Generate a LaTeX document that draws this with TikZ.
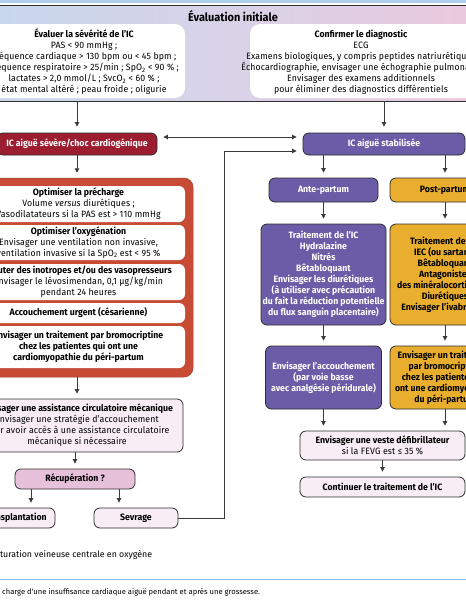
\documentclass[tikz,border=0pt]{standalone}
\usepackage{fontspec}
\setmainfont{Fira Sans}[UprightFeatures={FakeStretch=0.95,LetterSpace=1.5}, ItalicFeatures={FakeStretch=0.95,LetterSpace=1.5}, BoldFeatures={FakeStretch=0.95}]
\newfontfamily\capfont{Fira Sans}
\usetikzlibrary{arrows.meta,calc}
\definecolor{bandL}{HTML}{C4D8EE}
\definecolor{bandM}{HTML}{D9D3E8}
\definecolor{bandR}{HTML}{EFC6DB}
\definecolor{edge}{HTML}{2E2E2E}
\definecolor{sevred}{HTML}{9C1C30}
\definecolor{framered}{HTML}{C84B36}
\definecolor{purp}{HTML}{6A5CA6}
\definecolor{orng}{HTML}{E9AE2E}
\definecolor{lpink}{HTML}{F8EDF4}
\definecolor{rpink}{HTML}{E7C1DA}
\definecolor{bluel}{HTML}{8DB9E2}
\definecolor{arrgray}{HTML}{3A3A3A}
\newcommand{\fs}{\fontsize{9.2}{11}\selectfont}
\begin{document}
\begin{tikzpicture}[x=1pt,y=-1pt,
  box/.style={rounded corners=6pt, draw=edge, line width=0.8pt, align=center, inner sep=0pt, font=\fs},
  whitebox/.style={box, fill=white},
  redbox/.style={box, fill=sevred, text=white, font=\fs\bfseries},
  purpbox/.style={box, fill=purp, text=white, font=\fs\bfseries},
  orngbox/.style={box, fill=orng, text=black, font=\fs\bfseries},
  pinkbox/.style={box, fill=lpink},
  inbox/.style={rounded corners=6pt, fill=white, align=center, inner sep=0pt, font=\fs},
  txt/.style={align=center, inner sep=0pt, font=\fs},
  arr/.style={-{Triangle[length=4.5pt,width=4.5pt]}, line width=0.7pt, draw=arrgray, shorten >=5pt},
  dblarr/.style={{Triangle[length=4.5pt,width=4.5pt]}-{Triangle[length=4.5pt,width=4.5pt]}, line width=0.7pt, draw=arrgray, shorten >=6pt, shorten <=6pt}
]
\useasboundingbox (0,0) rectangle (466,600);
\clip (0,0) rectangle (466,600);
\fill[white] (0,0) rectangle (466,600);
% top strip
\fill[bluel!70] (-10,0) rectangle (476,3);
% band
\node[draw=edge, line width=0.8pt, left color=bandL, right color=bandR, middle color=bandM,
      minimum width=600pt, minimum height=96pt, inner sep=0pt] (band) at (233,53) {};
\node[txt, font=\fontsize{11.5}{13}\selectfont\bfseries] (title) at (233,16) {Évaluation initiale};
% top left box
\node[whitebox, draw=none, rounded corners=10pt, minimum width=210pt, minimum height=74pt] (evalbox) at (80,61) {};
\node[txt] (evaltext) at (84,62) {\textbf{Évaluer la sévérité de l'IC}\\PAS < 90 mmHg ;\\Fréquence cardiaque > 130 bpm ou < 45 bpm ;\\Fréquence respiratoire > 25/min ; SpO\textsubscript{2} < 90 \% ;\\lactates > 2,0 mmol/L ; SvcO\textsubscript{2} < 60 \% ;\\état mental altéré ; peau froide ; oligurie};
% top right box
\node[whitebox, draw=none, rounded corners=10pt, minimum width=270pt, minimum height=74pt] (diagbox) at (385,61) {};
\node[txt] (diagtext) at (361,62) {\textbf{Confirmer le diagnostic}\\ECG\\Examens biologiques, y compris peptides natriurétiques\\Échocardiographie, envisager une échographie pulmonaire\\Envisager des examens additionnels\\pour éliminer des diagnostics différentiels};
% row of main nodes
\node[redbox, minimum width=160pt, minimum height=22pt] (severe) at (77,144) {IC aiguë sévère/choc cardiogénique};
\node[purpbox, minimum width=162pt, minimum height=22pt] (stab) at (384,144) {IC aiguë stabilisée};
\draw[arr, shorten >=6pt] (severe.north |- band.south) -- (severe.north);
\draw[arr, shorten >=6pt] (stab.north |- band.south) -- (stab.north);
\draw[dblarr] ([yshift=7pt]severe.east) -- ([yshift=7pt]stab.west);
% right column
\node[purpbox, minimum width=109pt, minimum height=24pt] (ante) at (323.5,190) {Ante-partum};
\node[orngbox, minimum width=110pt, minimum height=24pt] (post) at (445,190) {Post-partum};
\draw[arr] (ante.north |- stab.south) -- (ante.north);
\draw[arr] (post.north |- stab.south) -- (post.north);
\node[purpbox, minimum width=125pt, minimum height=101pt] (anttx) at (323.5,274.5) {Traitement de l'IC\\Hydralazine\\Nitrés\\Bêtabloquant\\Envisager les diurétiques\\(à utiliser avec précaution\\du fait la réduction potentielle\\du flux sanguin placentaire)};
\node[orngbox, minimum width=110pt, minimum height=101pt] (posttx) at (445,274.5) {Traitement de l'IC\\IEC (ou sartans)\\Bêtabloquant\\Antagonistes\\des minéralocorticoïdes\\Diurétiques\\Envisager l'ivabradine};
\draw[arr] (ante.south) -- (anttx.north);
\draw[arr] (post.south) -- (posttx.north);
\node[purpbox, minimum width=116pt, minimum height=63pt] (accouch) at (323.5,377.5) {Envisager l'accouchement\\(par voie basse\\avec analgésie péridurale)};
\node[orngbox, minimum width=110pt, minimum height=63pt] (bromo) at (445,377.5) {Envisager un traitement\\par bromocriptine\\chez les patientes qui\\ont une cardiomyopathie\\du péri-partum};
\draw[arr] (anttx.south) -- (accouch.north);
\draw[arr] (posttx.south) -- (bromo.north);
\node[pinkbox, minimum width=165pt, minimum height=29pt] (veste) at (382.5,445.5) {\textbf{Envisager une veste défibrillateur}\\si la FEVG est ≤ 35 \%};
\draw[arr] (accouch.south) -- (accouch.south |- veste.north);
\draw[arr] (bromo.south) -- (bromo.south |- veste.north);
\node[pinkbox, minimum width=165pt, minimum height=20pt] (cont) at (382.5,487) {\textbf{Continuer le traitement de l'IC}};
\draw[arr] (veste.south) -- (cont.north);
% left column frame
\node[rounded corners=9pt, fill=framered, draw=framered!80!black, line width=0.5pt, minimum width=223pt, minimum height=199pt, inner sep=0pt] (frame) at (81.5,277.5) {};
\node[inbox, minimum width=213pt, minimum height=36pt] (b1) at (78.5,204) {\textbf{Optimiser la précharge}\\Volume \emph{versus} diurétiques ;\\Vasodilatateurs si la PAS est > 110 mmHg};
\node[inbox, minimum width=213pt, minimum height=35pt] (b2) at (78.5,242.5) {\textbf{Optimiser l'oxygénation}\\Envisager une ventilation non invasive,\\ventilation invasive si la SpO\textsubscript{2} est < 95 \%};
\node[inbox, minimum width=213pt, minimum height=36pt] (b3) at (78.5,282) {\textbf{Ajouter des inotropes et/ou des vasopresseurs}\\Envisager le lévosimendan, 0,1 µg/kg/min\\pendant 24 heures};
\node[inbox, minimum width=213pt, minimum height=20pt] (b4) at (78.5,313) {\textbf{Accouchement urgent (césarienne)}};
\node[inbox, minimum width=213pt, minimum height=42pt, font=\fs\bfseries] (b5) at (78.5,347) {Envisager un traitement par bromocriptine\\chez les patientes qui ont une\\cardiomyopathie du péri-partum};
\draw[arr] (severe.south) -- (severe.south |- frame.north);
\node[pinkbox, minimum width=212pt, minimum height=53pt] (assist) at (77,425.5) {\textbf{Envisager une assistance circulatoire mécanique}\\Envisager une stratégie d'accouchement\\pour avoir accès à une assistance circulatoire\\mécanique si nécessaire};
\draw[arr] (assist.north |- frame.south) -- (assist.north);
\node[box, fill=rpink, font=\fs\bfseries, minimum width=120pt, minimum height=20pt] (recup) at (75,479) {Récupération ?};
\draw[arr] (assist.south -| recup.north) -- (recup.north);
\node[pinkbox, font=\fs\bfseries, minimum width=80pt, minimum height=20pt] (transp) at (15,518) {Transplantation};
\node[pinkbox, font=\fs\bfseries, minimum width=84pt, minimum height=20pt] (sevrage) at (136,518) {Sevrage};
\draw[arr] ([xshift=-44pt]recup.south) -- ([xshift=-44pt]recup.south |- transp.north);
\draw[arr] ([xshift=44pt]recup.south) -- ([xshift=44pt]recup.south |- sevrage.north);
\coordinate (loop) at (224,151);
\draw[arr, shorten >=6pt] (sevrage.east) -| (loop) -- (stab.west |- loop);
% footnote and caption
\node[txt, anchor=west, font=\capfont\fontsize{8.8}{11}\selectfont] (fnote) at (-9,555) {saturation veineuse centrale en oxygène};
\draw[bluel, line width=1pt] (-10,579) -- (476,579);
\node[txt, anchor=west, font=\capfont\fontsize{7.6}{9}\selectfont] (caption) at (2,592) {charge d'une insuffisance cardiaque aiguë pendant et après une grossesse.};
\end{tikzpicture}
\end{document}
